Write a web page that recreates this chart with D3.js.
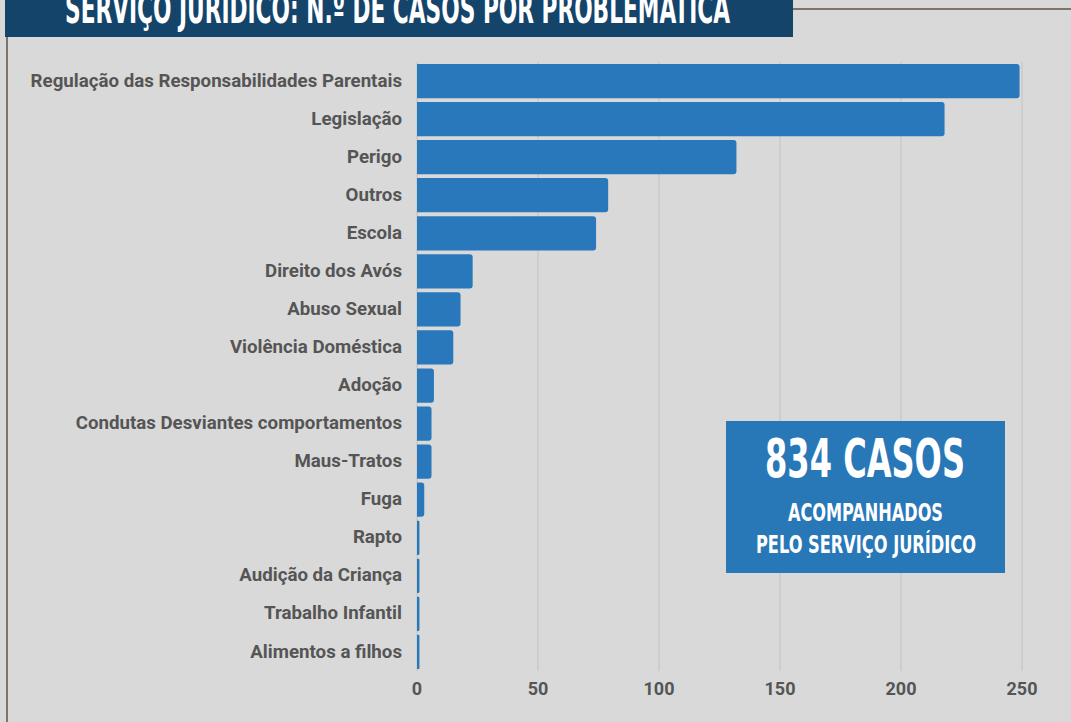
<!DOCTYPE html>
<html>
<head>
<meta charset="utf-8">
<script src="https://cdn.jsdelivr.net/npm/d3@7"></script>
<style>
  body { margin: 0; background: #d9d9d9; }
  svg { display: block; }
</style>
</head>
<body>
<div id="chart-area"></div>
<script>
/*
*    Serviço Jurídico - casos por problemática
*/

var categories = ["Regulação das Responsabilidades Parentais", "Legislação", "Perigo", "Outros",
    "Escola", "Direito dos Avós", "Abuso Sexual", "Violência Doméstica", "Adoção",
    "Condutas Desviantes comportamentos", "Maus-Tratos", "Fuga", "Rapto",
    "Audição da Criança", "Trabalho Infantil", "Alimentos a filhos"];
var values = [249, 218, 132, 79, 74, 23, 18, 15, 7, 6, 6, 3, 1, 1, 1, 1];
var ticks = [0, 50, 100, 150, 200, 250];
var title = "SERVIÇO JURÍDICO: N.º DE CASOS POR PROBLEMÁTICA";
var boxLines = ["834 CASOS", "ACOMPANHADOS", "PELO SERVIÇO JURÍDICO"];

var width = 1071, height = 722;
var margin = { left: 417, right: 49, top: 62, bottom: 51 };

var svg = d3.select("#chart-area")
    .append("svg")
    .attr("width", width)
    .attr("height", height);

svg.append("rect")
    .attr("width", width)
    .attr("height", height)
    .attr("fill", "#d9d9d9");

// border lines
svg.append("line")
    .attr("x1", 7).attr("x2", 7)
    .attr("y1", 30).attr("y2", height)
    .attr("stroke", "#7f736e").attr("stroke-width", 2);
svg.append("line")
    .attr("x1", 790).attr("x2", width)
    .attr("y1", 9).attr("y2", 9)
    .attr("stroke", "#7f736e").attr("stroke-width", 2);

var x = d3.scaleLinear()
    .domain([0, 250])
    .range([margin.left, width - margin.right]);

var y = d3.scaleBand()
    .domain(categories)
    .range([margin.top, height - margin.bottom])
    .paddingInner(0.1)
    .paddingOuter(0.05);

// gridlines
svg.append("g")
    .selectAll("line")
    .data(ticks)
    .enter().append("line")
        .attr("x1", function(d) { return x(d); })
        .attr("x2", function(d) { return x(d); })
        .attr("y1", margin.top)
        .attr("y2", height - margin.bottom)
        .attr("stroke", "#c2c2c2")
        .attr("stroke-width", 1);

// bars: rounded at the right end only
svg.append("g")
    .selectAll("path")
    .data(values)
    .enter().append("path")
        .attr("fill", "#2878bb")
        .attr("d", function(d, i) {
            var x0 = x(0), x1 = x(d), y0 = y(categories[i]), h = y.bandwidth();
            var r = Math.min(3, (x1 - x0) / 2);
            return "M" + x0 + "," + y0 +
                "H" + (x1 - r) +
                "Q" + x1 + "," + y0 + " " + x1 + "," + (y0 + r) +
                "V" + (y0 + h - r) +
                "Q" + x1 + "," + (y0 + h) + " " + (x1 - r) + "," + (y0 + h) +
                "H" + x0 + "Z";
        });

// category labels
svg.append("g")
    .selectAll("text")
    .data(categories)
    .enter().append("text")
        .attr("x", margin.left - 15)
        .attr("y", function(d) { return y(d) + y.bandwidth() / 2 - 1; })
        .attr("dy", "0.35em")
        .attr("text-anchor", "end")
        .attr("font-family", "Roboto")
        .attr("font-weight", "bold")
        .attr("font-size", "18.7px")
        .attr("fill", "#555555")
        .text(function(d) { return d; });

// x axis labels
svg.append("g")
    .selectAll("text")
    .data(ticks)
    .enter().append("text")
        .attr("x", function(d) { return x(d); })
        .attr("y", 695)
        .attr("text-anchor", "middle")
        .attr("font-family", "Roboto")
        .attr("font-weight", "bold")
        .attr("font-size", "18px")
        .attr("fill", "#555555")
        .text(function(d) { return d; });

// title box (text runs off the top edge, as in the original)
svg.append("rect")
    .attr("x", 5).attr("y", 0)
    .attr("width", 788).attr("height", 37)
    .attr("fill", "#15446a");
svg.append("text")
    .attr("x", 65)
    .attr("y", 23)
    .attr("textLength", 665)
    .attr("lengthAdjust", "spacingAndGlyphs")
    .attr("font-family", "DejaVu Sans Condensed, DejaVu Sans")
    .attr("font-weight", "bold")
    .attr("font-size", "41px")
    .attr("fill", "#ffffff")
    .text(title);

// summary box
svg.append("rect")
    .attr("x", 726).attr("y", 421)
    .attr("width", 279).attr("height", 152)
    .attr("fill", "#2878b8");

var boxText = [
    { x: 765, y: 477, len: 200, size: 53 },
    { x: 788, y: 521, len: 155, size: 25 },
    { x: 756, y: 553, len: 220, size: 25 }
];
svg.append("g")
    .selectAll("text")
    .data(boxLines)
    .enter().append("text")
        .attr("x", function(d, i) { return boxText[i].x; })
        .attr("y", function(d, i) { return boxText[i].y; })
        .attr("textLength", function(d, i) { return boxText[i].len; })
        .attr("lengthAdjust", "spacingAndGlyphs")
        .attr("font-family", "DejaVu Sans Condensed, DejaVu Sans")
        .attr("font-weight", "bold")
        .attr("font-size", function(d, i) { return boxText[i].size + "px"; })
        .attr("fill", "#ffffff")
        .text(function(d) { return d; });
</script>
</body>
</html>
